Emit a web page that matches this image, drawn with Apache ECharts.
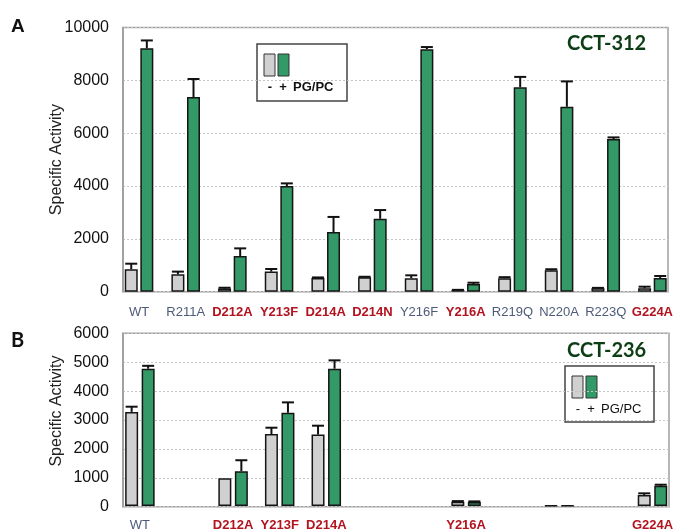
<!DOCTYPE html>
<html>
<head>
<meta charset="utf-8">
<script src="https://cdn.jsdelivr.net/npm/echarts@6/dist/echarts.min.js"></script>
<style>
  html, body { margin: 0; padding: 0; background: #fff; }
  #chart { width: 676px; height: 532px; }
</style>
</head>
<body>
<div id="chart"></div>
<script>
// Mutant names along the category axis
const mutants = ['WT', 'R211A', 'D212A', 'Y213F', 'D214A', 'D214N', 'Y216F', 'Y216A', 'R219Q', 'N220A', 'R223Q', 'G224A'];
// Residues highlighted in bold red
const keyResidues = ['D212A', 'Y213F', 'D214A', 'D214N', 'Y216A', 'G224A'];

// CCT-312: activity without (-) and with (+) PG/PC, with upper error
const cct312Minus    = [850, 660, 120, 760, 520, 545, 510, 60, 510, 810, 130, 130];
const cct312MinusErr = [210, 100, 30, 100, 20, 20, 110, 10, 40, 40, 15, 60];
const cct312Plus     = [9210, 7370, 1350, 4000, 2260, 2760, 9180, 290, 7740, 7000, 5780, 520];
const cct312PlusErr  = [300, 680, 290, 100, 570, 330, 80, 50, 390, 960, 60, 75];

// CCT-236: only a subset of mutants was measured
const cct236Minus    = [3270, null, 960, 2500, 2480, null, null, 150, null, 20, null, 380];
const cct236MinusErr = [180, null, 0, 220, 310, null, null, 20, null, 0, null, 60];
const cct236Plus     = [4770, null, 1210, 3240, 4770, null, null, 140, null, 15, null, 700];
const cct236PlusErr  = [100, null, 380, 360, 290, null, null, 20, null, 0, null, 40];
const cct236Labeled  = ['WT', 'D212A', 'Y213F', 'D214A', 'Y216A', 'G224A'];

// Value-axis ticks for each panel
const ticksA = [0, 2000, 4000, 6000, 8000, 10000];
const ticksB = [0, 1000, 2000, 3000, 4000, 5000, 6000];

const GRAY = '#d0d0d0';
const GREEN = '#339966';
const BAR_W = 13;
const GAP_A = 0.2;
const GAP_B = 0.27;

const chart = echarts.init(document.getElementById('chart'), null, { renderer: 'canvas' });

function errorBars(values, errs, side, gap, xi, yi) {
  const offset = side * BAR_W * (1 + gap) / 2;
  const data = [];
  values.forEach((v, i) => {
    if (v != null && errs[i] > 0) data.push([i, v, v + errs[i]]);
  });
  return {
    type: 'custom',
    xAxisIndex: xi,
    yAxisIndex: yi,
    z: 5,
    silent: true,
    data: data,
    renderItem(params, api) {
      const base = api.coord([api.value(0), api.value(1)]);
      const top = api.coord([api.value(0), api.value(2)]);
      const x = base[0] + offset;
      const st = { stroke: '#111', lineWidth: 2 };
      return {
        type: 'group',
        children: [
          { type: 'line', shape: { x1: x, y1: base[1], x2: x, y2: top[1] }, style: st },
          { type: 'line', shape: { x1: x - 6, y1: top[1], x2: x + 6, y2: top[1] }, style: st }
        ]
      };
    }
  };
}

function bars(values, color, gap, xi, yi) {
  return {
    type: 'bar',
    xAxisIndex: xi,
    yAxisIndex: yi,
    data: values,
    barWidth: BAR_W,
    barGap: (gap * 100) + '%',
    itemStyle: { color: color, borderColor: '#151515', borderWidth: 1.5 },
    silent: true
  };
}

const tickFont = { fontFamily: 'Liberation Sans', fontSize: 16, color: '#111' };

function frameY(ticks, grid, namePad) {
  return {
    type: 'value', gridIndex: grid,
    min: ticks[0], max: ticks[ticks.length - 1], interval: ticks[1] - ticks[0],
    axisLine: { show: true, lineStyle: { color: '#9a9a9a', width: 1.5 } },
    axisTick: { show: false },
    axisLabel: Object.assign({ margin: 14, formatter: (v) => String(v) }, tickFont),
    splitLine: { show: true, lineStyle: { color: '#c4c4c4', type: [2, 2], width: 1 } },
    name: 'Specific Activity',
    nameLocation: 'middle',
    nameGap: 58,
    nameMoveOverlap: false,
    nameTextStyle: { fontFamily: 'Liberation Sans', fontSize: 16, color: '#222', padding: [0, 0, 0, namePad] }
  };
}

function hiddenY(ticks, grid) {
  return {
    type: 'value', gridIndex: grid,
    min: ticks[0], max: ticks[ticks.length - 1], interval: ticks[1] - ticks[0],
    show: false
  };
}

function catX(grid, margin, filter) {
  return {
    type: 'category', gridIndex: grid, data: mutants,
    axisLine: { show: false }, axisTick: { show: false },
    axisLabel: {
      interval: 0, margin: margin,
      formatter: (v) => {
        if (filter && filter.indexOf(v) < 0) return '';
        return keyResidues.indexOf(v) >= 0 ? '{key|' + v + '}' : '{std|' + v + '}';
      },
      rich: {
        key: { fontFamily: 'Liberation Sans', fontSize: 13, fontWeight: 'bold', color: '#b3121f' },
        std: { fontFamily: 'Liberation Sans', fontSize: 13, color: '#4d5b78' }
      }
    },
    splitLine: { show: false }
  };
}

function legendBox(x, y, w, h, bold) {
  const font = { fontFamily: 'Liberation Sans', fontSize: 13, fontWeight: bold ? 'bold' : 'normal', fill: '#111', verticalAlign: 'middle' };
  return {
    type: 'group', x: x, y: y, silent: true,
    children: [
      { type: 'rect', shape: { x: 0, y: 0, width: w, height: h }, style: { fill: '#fff', stroke: '#444', lineWidth: 1.5 } },
      { type: 'rect', shape: { x: 7, y: 10, width: 11, height: 22 }, style: { fill: GRAY, stroke: '#333', lineWidth: 1 } },
      { type: 'rect', shape: { x: 21, y: 10, width: 11, height: 22 }, style: { fill: GREEN, stroke: '#333', lineWidth: 1 } },
      { type: 'text', x: 13, y: 43, style: Object.assign({ text: '-', align: 'center' }, font) },
      { type: 'text', x: 26, y: 43, style: Object.assign({ text: '+', align: 'center' }, font) },
      { type: 'text', x: 36, y: 43, style: Object.assign({ text: 'PG/PC', align: 'left' }, font) }
    ]
  };
}

const option = {
  animation: false,
  backgroundColor: '#fff',
  grid: [
    // panel A frame and bars
    { left: 123, top: 27.5, width: 545, height: 264.2, show: true, borderColor: '#a0a0a0', borderWidth: 1.5, backgroundColor: 'transparent' },
    { left: 115.7, top: 27.5, width: 560.2, height: 264.2 },
    // panel B frame and bars
    { left: 123, top: 333.3, width: 546, height: 173.4, show: true, borderColor: '#a0a0a0', borderWidth: 1.5, backgroundColor: 'transparent' },
    { left: 116.6, top: 333.3, width: 561, height: 173.4 }
  ],
  xAxis: [
    { type: 'value', gridIndex: 0, min: 0, max: 1, show: false },
    catX(1, 14, null),
    { type: 'value', gridIndex: 2, min: 0, max: 1, show: false },
    catX(3, 13, cct236Labeled)
  ],
  yAxis: [
    frameY(ticksA, 0, 0),
    hiddenY(ticksA, 1),
    frameY(ticksB, 2, 18),
    hiddenY(ticksB, 3)
  ],
  series: [
    bars(cct312Minus, GRAY, GAP_A, 1, 1),
    bars(cct312Plus, GREEN, GAP_A, 1, 1),
    errorBars(cct312Minus, cct312MinusErr, -1, GAP_A, 1, 1),
    errorBars(cct312Plus, cct312PlusErr, 1, GAP_A, 1, 1),
    bars(cct236Minus, GRAY, GAP_B, 3, 3),
    bars(cct236Plus, GREEN, GAP_B, 3, 3),
    errorBars(cct236Minus, cct236MinusErr, -1, GAP_B, 3, 3),
    errorBars(cct236Plus, cct236PlusErr, 1, GAP_B, 3, 3)
  ],
  graphic: [
    { type: 'text', left: 11, top: 17, style: { text: 'A', fontFamily: 'Liberation Sans', fontSize: 19, fontWeight: 'bold', fill: '#111' } },
    { type: 'text', left: 11, top: 331, style: { text: 'B', fontFamily: 'Lato', fontSize: 20, fontWeight: 'bold', fill: '#111' } },
    { type: 'text', left: 567, top: 34, style: { text: 'CCT-312', fontFamily: 'Lato', fontSize: 20, fontWeight: 'bold', fill: '#0d3d14' } },
    { type: 'text', left: 567, top: 341, style: { text: 'CCT-236', fontFamily: 'Lato', fontSize: 20, fontWeight: 'bold', fill: '#0d3d14' } },
    legendBox(257, 44, 90, 57, true),
    legendBox(565, 366, 89, 56, false)
  ]
};

chart.setOption(option);
</script>
</body>
</html>
